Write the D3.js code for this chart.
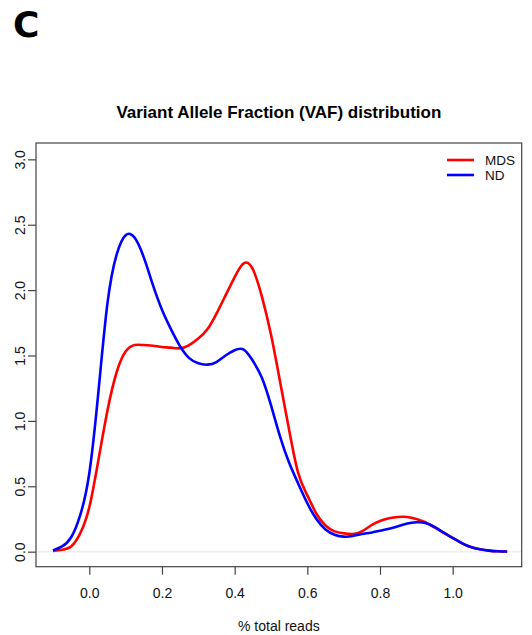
<!DOCTYPE html>
<html><head><meta charset="utf-8">
<script src="https://cdn.jsdelivr.net/npm/d3@7"></script>
<style>body{margin:0;background:#fff}svg{display:block}</style>
</head><body>
<script>
const xs = [-0.100,-0.075,-0.050,-0.025,0.000,0.025,0.050,0.075,0.100,0.125,0.150,0.175,0.200,0.225,0.250,0.275,0.300,0.325,0.350,0.375,0.400,0.425,0.450,0.475,0.500,0.525,0.550,0.575,0.600,0.625,0.650,0.675,0.700,0.725,0.750,0.775,0.800,0.825,0.850,0.875,0.900,0.925,0.950,0.975,1.000,1.025,1.050,1.075,1.100,1.125,1.150];
const ndValues = [0.01,0.04,0.11,0.28,0.60,1.22,1.90,2.27,2.42,2.40,2.25,2.04,1.85,1.70,1.57,1.48,1.44,1.43,1.45,1.50,1.54,1.545,1.46,1.33,1.12,0.88,0.68,0.52,0.37,0.25,0.17,0.13,0.115,0.12,0.135,0.145,0.16,0.175,0.195,0.215,0.225,0.22,0.19,0.145,0.105,0.065,0.035,0.018,0.008,0.003,0.001];
const mdsValues = [0.005,0.015,0.04,0.14,0.34,0.70,1.08,1.37,1.53,1.58,1.58,1.575,1.565,1.56,1.555,1.58,1.63,1.70,1.82,1.96,2.10,2.205,2.16,1.95,1.66,1.30,0.93,0.60,0.43,0.29,0.20,0.155,0.14,0.135,0.155,0.20,0.235,0.255,0.265,0.265,0.25,0.225,0.185,0.145,0.105,0.065,0.035,0.018,0.008,0.003,0.001];
const seriesNames = ["MDS","ND"];
const seriesColors = ["#ff0000","#0000ff"];
const xTicks = [0.0,0.2,0.4,0.6,0.8,1.0];
const yTicks = [0.0,0.5,1.0,1.5,2.0,2.5,3.0];

const W=532,H=635;
const L=36,R=521.7,T=143,B=566.7;
const svg=d3.select("body").append("svg").attr("width",W).attr("height",H);
const x=d3.scaleLinear().domain([-0.1467,1.19]).range([L,R]);
const y=d3.scaleLinear().domain([-0.115,3.125]).range([B,T]);
const font="'Liberation Sans', Arial, sans-serif";

// panel letter
svg.append("text").attr("x",13).attr("y",37).attr("font-family","'DejaVu Sans', sans-serif").attr("font-weight","bold").attr("font-size",36).attr("fill","#000").text("C");
// title
svg.append("text").attr("x",(L+R)/2).attr("y",117.5).attr("text-anchor","middle").attr("font-family",font).attr("font-weight","bold").attr("font-size",17).attr("fill","#000").text("Variant Allele Fraction (VAF) distribution");

// zero line
svg.append("line").attr("x1",L).attr("x2",R).attr("y1",y(0)).attr("y2",y(0)).attr("stroke","#eeeeee").attr("stroke-width",1.5);

// curves
const line=d3.line().x((d,i)=>x(xs[i])).y(d=>y(d)).curve(d3.curveNatural);
[mdsValues,ndValues].forEach((vals,k)=>{
  svg.append("path").attr("d",line(vals)).attr("fill","none").attr("stroke",seriesColors[k]).attr("stroke-width",2.6).attr("stroke-linejoin","round");
});

// box
svg.append("rect").attr("x",L).attr("y",T).attr("width",R-L).attr("height",B-T).attr("fill","none").attr("stroke","#444").attr("stroke-width",1.2);

// x axis
const xa=svg.append("g").attr("transform",`translate(0,${B})`)
  .call(d3.axisBottom(x).tickValues(xTicks).tickSize(8).tickPadding(13).tickFormat(d3.format(".1f")));
xa.select(".domain").remove();
xa.selectAll("line").attr("stroke","#444").attr("stroke-width",1.2);
xa.selectAll("text").attr("font-family",font).attr("font-size",14).attr("fill","#111");

// y axis
const ya=svg.append("g").attr("transform",`translate(${L},0)`)
  .call(d3.axisLeft(y).tickValues(yTicks).tickSize(8).tickFormat(d3.format(".1f")));
ya.select(".domain").remove();
ya.selectAll("line").attr("stroke","#444").attr("stroke-width",1.2);
ya.selectAll(".tick text").attr("font-family",font).attr("font-size",14).attr("fill","#111")
  .attr("text-anchor","middle").attr("x",0).attr("y",0).attr("dy","0em")
  .attr("transform","translate(-11,0) rotate(-90)");

// x label
svg.append("text").attr("x",(L+R)/2).attr("y",631).attr("text-anchor","middle").attr("font-family",font).attr("font-size",14).attr("fill","#111").text("% total reads");

// legend
seriesNames.forEach((n,i)=>{
  const yy=160+i*15;
  svg.append("line").attr("x1",447).attr("x2",474).attr("y1",yy).attr("y2",yy).attr("stroke",seriesColors[i]).attr("stroke-width",2.6);
  svg.append("text").attr("x",485).attr("y",yy+4.5).attr("font-family",font).attr("font-size",13.5).attr("fill","#111").text(n);
});
</script>
</body></html>
